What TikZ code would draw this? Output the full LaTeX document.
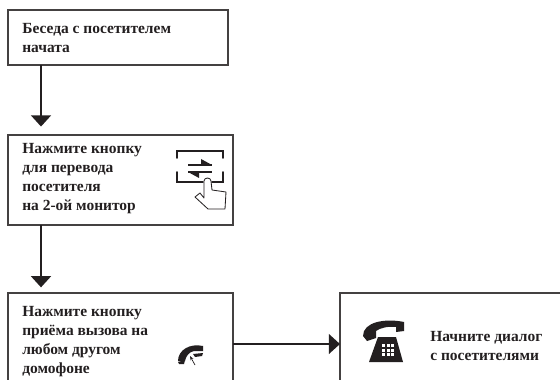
\documentclass[tikz,border=0pt]{standalone}
\usepackage{fontspec}
\setmainfont{Liberation Serif}
\usetikzlibrary{arrows.meta}
\definecolor{inkdark}{HTML}{231F20}
\begin{document}
\begin{tikzpicture}
	[%
	x=0.025cm, y=-0.025cm,%
	box/.style  ={rectangle,	draw=inkdark!85,	line width=0.8pt,	fill=white,	inner sep=0pt,	outer sep=0pt,	anchor=north west},%
	note/.style ={anchor=north west,	inner sep=0pt,	align=left,	text=inkdark,	font=\fontsize{11}{13.5}\selectfont\bfseries},%
	flow/.style ={draw=inkdark,	line width=2.1pt,	-{Triangle[length=8pt,width=14pt]}},%
	icon/.style ={draw=inkdark,	line width=1.1pt,	line cap=round},%
	]

	\useasboundingbox (0,0) rectangle (560,380);

	% boxes
	\node (start)	at (8,10)	[box, minimum width=5.5cm,	minimum height=1.375cm] {};
	\node (second)	at (8,135)	[box, minimum width=5.625cm,	minimum height=2.25cm] {};
	\node (answer)	at (8,293)	[box, minimum width=5.625cm,	minimum height=2.55cm] {};
	\node (talk)	at (340,293)	[box, minimum width=6.5cm,	minimum height=2.55cm] {};

	% labels
	\node (starttext)	at (22,23)	[note] {Беседа с посетителем\\начата};
	\node (secondtext)	at (22,143)	[note] {Нажмите кнопку\\для перевода\\посетителя\\на 2-ой монитор};
	\node (answertext)	at (22,306)	[note] {Нажмите кнопку\\приёма вызова на\\любом другом\\домофоне};
	\node (talktext)	at (430,331)	[note] {Начните диалог\\с посетителями};

	% interconnections
	\draw [flow, shorten >=6pt] ([xshift=0.825cm]start.south west) -- ([xshift=0.825cm]second.north west);
	\draw [flow, shorten >=4pt] ([xshift=0.825cm]second.south west) -- ([xshift=0.825cm]answer.north west);
	\draw [flow] (answer.east) -- (talk.west);

	% transfer icon
	\draw [icon] (177,158) -- (177,151) -- (223,151) -- (223,158);
	\draw [icon] (203,182) -- (177,182) -- (177,172);
	\draw [icon] (223,172) -- (223,182) -- (212,182);
	\draw [inkdark, line width=1.3pt] (188,165) -- (212,165);
	\draw [inkdark, line width=1.3pt] (188,172) -- (212,172);
	\fill [inkdark] (212,165) -- (201,165) -- (201,159) -- cycle;
	\fill [inkdark] (188,172) -- (199,172) -- (199,178) -- cycle;
	\draw [icon, line width=0.6pt, fill=white, line join=round] (204,198) -- (204,181) .. controls (204,177) and (211,177) .. (211,181)
		-- (212,190) -- (226,192) -- (225,209) -- (208,209) -- (195,197) -- (200,193) -- cycle;

	% handset icon
	\fill [inkdark] (178,361) .. controls (178,350) and (190,343) .. (203,346) -- (203,351)
		-- (194,351) .. controls (189,352) and (186,356) .. (185,361) -- cycle;
	\fill [inkdark] (178,362) -- (185,360) -- (184,364) -- (179,364) -- cycle;
	\fill [inkdark] (193,354) -- (203,353) -- (202,356) -- (195,357) -- cycle;
	\draw [inkdark, line width=0.5pt, -{Stealth[length=3pt]}] (195,365) -- (190,356);

	% telephone icon
	\fill [inkdark] (363,336) .. controls (363,322) and (385,318) .. (404,322) -- (404,331) -- (396,332)
		-- (396,327) .. controls (388,326) and (380,328) .. (376,331) -- (376,338) -- (367,341) -- cycle;
	\fill [inkdark] (378,337) -- (396,337) -- (403,362) -- (369,362) -- cycle;
	\foreach \i in {0,1,2}%
		\foreach \j in {0,1,2}%
			\fill [white] (382+\i*4.5,344+\j*4.5) rectangle ++(3,3);

\end{tikzpicture}
\end{document}
